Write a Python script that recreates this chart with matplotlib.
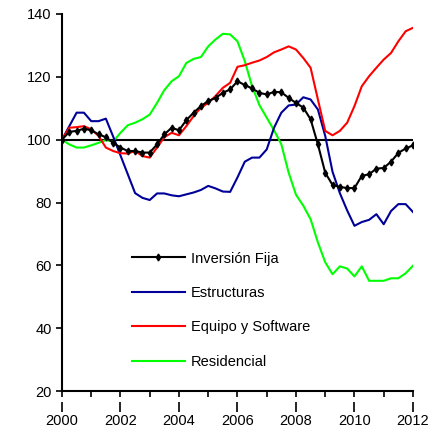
import numpy as np
import matplotlib
matplotlib.use("Agg")
import matplotlib.pyplot as plt

plt.rcParams["font.family"] = ["Liberation Sans", "DejaVu Sans"]

# quarterly index, 2000Q1 = 100
years = 2000 + np.arange(49) / 4.0

inversion_fija = [100, 102.5, 102.8, 103.5, 103.0, 101.7, 100.8, 99.0, 97.5, 96.4,
                  96.4, 95.9, 95.9, 98.5, 101.7, 103.8, 103.0, 106.2, 108.6, 110.7,
                  112.3, 113.3, 114.9, 116.0, 118.6, 117.4, 116.3, 114.9, 114.4, 115.2,
                  115.1, 113.3, 111.7, 110.2, 106.5, 98.5, 89.5, 85.6, 85.0, 84.6,
                  84.6, 88.5, 89.0, 90.8, 91.0, 93.0, 95.8, 97.2, 98.2]

estructuras = [100, 104.3, 108.6, 108.6, 105.9, 105.9, 106.7, 101.0, 95.0, 89.0,
               83.0, 81.5, 80.8, 82.9, 82.9, 82.3, 82.0, 82.6, 83.2, 84.0,
               85.3, 84.5, 83.5, 83.4, 88.0, 93.0, 94.3, 94.3, 96.9, 103.8,
               108.6, 110.9, 111.2, 113.5, 112.8, 109.6, 101.2, 89.8, 83.0, 77.5,
               72.6, 73.8, 74.5, 76.3, 73.1, 77.3, 79.5, 79.5, 77.0]

equipo_software = [100, 103.8, 104.0, 104.3, 103.3, 101.2, 97.5, 96.4, 95.7, 95.6,
                   96.4, 94.8, 94.3, 97.5, 100.8, 102.2, 101.4, 104.3, 107.5, 110.2,
                   111.7, 113.9, 116.5, 118.1, 123.2, 123.7, 124.5, 125.2, 126.3, 127.8,
                   128.7, 129.7, 128.7, 126.0, 122.9, 112.8, 102.8, 101.4, 102.8, 105.4,
                   110.7, 117.0, 120.2, 122.9, 125.5, 127.6, 131.3, 134.5, 135.6]

residencial = [100, 98.5, 97.5, 97.5, 98.2, 99.0, 99.9, 99.4, 102.2, 104.6,
               105.4, 106.5, 108.0, 111.7, 115.8, 118.6, 120.2, 124.4, 125.7, 126.3,
               129.7, 131.9, 133.7, 133.5, 131.3, 125.0, 117.0, 111.0, 107.0, 103.0,
               98.5, 89.5, 82.5, 79.0, 74.7, 67.3, 61.0, 57.2, 59.7, 59.0,
               56.5, 59.7, 55.1, 55.1, 55.1, 55.9, 55.9, 57.5, 59.9]

label_years = list(range(2000, 2013, 2))

fig = plt.figure(figsize=(4.44, 4.37), dpi=100)
ax = fig.add_axes([0.1396, 0.105, 0.7905, 0.863])

ax.axhline(100, color="black", lw=1.5, zorder=1)
ax.plot(years, inversion_fija, color="black", lw=1.5, marker="d", ms=3.5,
        label="Inversión Fija", zorder=5)
ax.plot(years, estructuras, color="#000099", lw=1.5, label="Estructuras", zorder=3)
ax.plot(years, equipo_software, color="#FF0000", lw=1.5, label="Equipo y Software", zorder=4)
ax.plot(years, residencial, color="#00FF00", lw=1.5, label="Residencial", zorder=2)

ax.set_xlim(2000, 2012)
ax.set_ylim(20, 140)
ax.set_yticks(range(20, 141, 20))
ax.set_xticks(range(2000, 2013))
ax.set_xticklabels([])
ax.tick_params(axis="both", labelsize=10.5, width=1.2, length=4, colors="black")

# second row of small marks with the year labels under them
sec = ax.secondary_xaxis(-0.028)
sec.set_xticks(label_years)
sec.set_xticklabels([str(y) for y in label_years])
sec.spines["bottom"].set_visible(False)
sec.tick_params(axis="x", which="major", direction="out", bottom=True,
                labelsize=10.5, width=1.2, length=7, pad=2, color="black")

for side in ["top", "right"]:
    ax.spines[side].set_visible(False)
for side in ["left", "bottom"]:
    ax.spines[side].set_linewidth(1.5)

ax.legend(loc="upper left", bbox_to_anchor=(0.2, 0.37), frameon=False,
          fontsize=10.5, handlelength=3.6, handletextpad=0.45, labelspacing=1.4,
          borderpad=0, borderaxespad=0)

fig.savefig("out.png", dpi=100)
